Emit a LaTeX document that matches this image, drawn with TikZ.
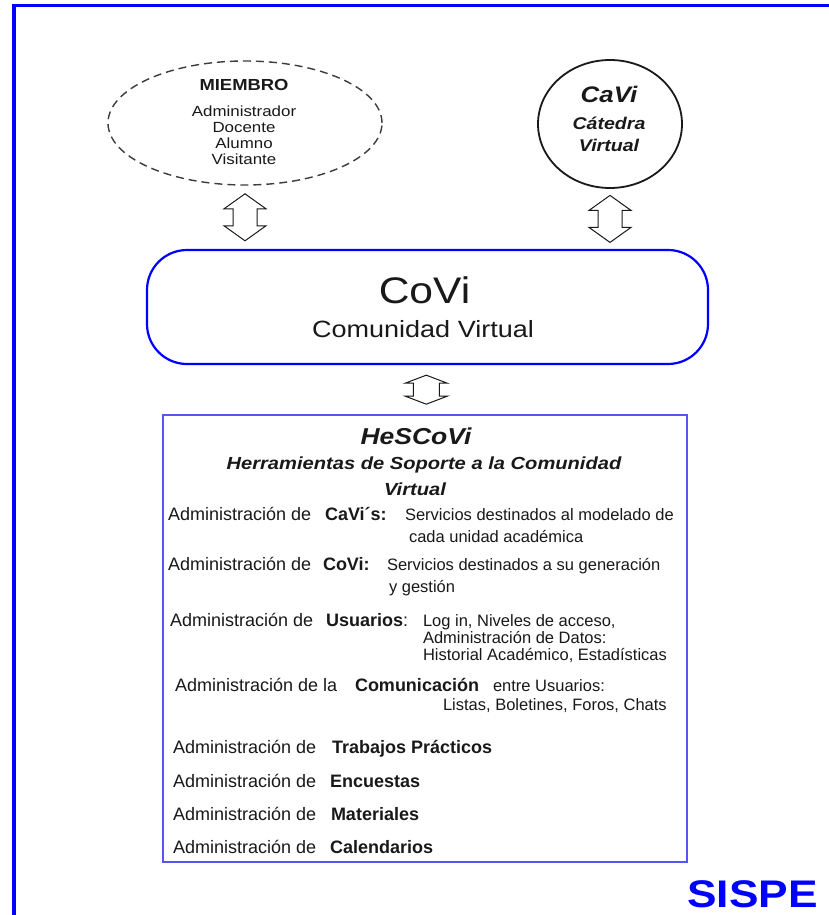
\documentclass[tikz,border=0pt]{standalone}
\usepackage{fontspec}
\setmainfont{Liberation Sans}
\newfontfamily\wf[FakeStretch=1.15]{Liberation Sans}
\usetikzlibrary{shapes.geometric,calc}
\definecolor{boxblue}{RGB}{85,85,245}
\definecolor{ink}{RGB}{25,25,25}
\definecolor{framblue}{RGB}{0,0,255}
\tikzset{
  txt/.style={inner sep=0pt, outer sep=0pt, text=ink},
  ctr/.style={txt, anchor=base},
  lft/.style={txt, anchor=base west},
  adm/.style={lft, font=\fontsize{18}{20}\selectfont},
  key/.style={lft, font=\bfseries\fontsize{18}{20}\selectfont},
  desc/.style={lft, font=\fontsize{16.5}{17}\selectfont},
  dblstyle/.style={draw=ink, line width=1pt, fill=white, line join=miter},
  pics/dbla/.style n args={4}{code={%
    \draw[dblstyle] (0,-#1) -- (#3,-#1+#2) -- (#4,-#1+#2) -- (#4,#1-#2) -- (#3,#1-#2)
      -- (0,#1) -- (-#3,#1-#2) -- (-#4,#1-#2) -- (-#4,-#1+#2) -- (-#3,-#1+#2) -- cycle;
  }},
}
\begin{document}
\begin{tikzpicture}[x=1pt,y=-1pt]
\useasboundingbox (0,0) rectangle (829,915);
\fill[white] (0,0) rectangle (829,915);
% outer frame
\draw[framblue, line width=3.6pt] (13.7,930) -- (13.7,5.5) -- (845,5.5);

% MIEMBRO
\node[ellipse, draw=ink!85, line width=1.4pt, dash pattern=on 8pt off 5pt,
      minimum width=274pt, minimum height=124pt, inner sep=0pt] (miembro) at (245,123) {};
\node[ctr, font=\wf\bfseries\fontsize{16}{18}\selectfont] (mtitle) at (244,90.7) {MIEMBRO};
\node[ctr, font=\wf\fontsize{14.7}{16}\selectfont] (m1) at (244,116.5) {Administrador};
\node[ctr, font=\wf\fontsize{14.7}{16}\selectfont] (m2) at (244,132.5) {Docente};
\node[ctr, font=\wf\fontsize{14.7}{16}\selectfont] (m3) at (244,148.5) {Alumno};
\node[ctr, font=\wf\fontsize{14.7}{16}\selectfont] (m4) at (244,164.5) {Visitante};

% CaVi
\node[ellipse, draw=ink, line width=1.8pt, minimum width=144pt, minimum height=128pt,
      inner sep=0pt] (cavi) at (610,124) {};
\node[ctr, font=\wf\bfseries\itshape\fontsize{22.5}{24}\selectfont] (c0) at (609,102.7) {CaVi};
\node[ctr, font=\wf\bfseries\itshape\fontsize{17}{19}\selectfont] (c1) at (609,130) {Cátedra};
\node[ctr, font=\wf\bfseries\itshape\fontsize{17}{19}\selectfont] (c2) at (609,151.7) {Virtual};

% CoVi
\node[draw=framblue, line width=2.2pt, rounded corners=40pt, minimum width=561pt,
      minimum height=114pt, inner sep=0pt] (covi) at (427.5,307) {};
\node[ctr, font=\wf\fontsize{37}{40}\selectfont] (covit) at (424.5,303) {CoVi};
\node[ctr, font=\wf\fontsize{23.5}{25}\selectfont] (covis) at (423,337) {Comunidad Virtual};

% HeSCoVi box
\node[draw=boxblue, line width=1.5pt, minimum width=524pt, minimum height=447pt,
      inner sep=0pt] (hes) at (425,638.5) {};
\node[ctr, font=\wf\bfseries\itshape\fontsize{23}{25}\selectfont] (h0) at (416,444) {HeSCoVi};
\node[ctr, font=\wf\bfseries\itshape\fontsize{17.5}{19}\selectfont] (h1) at (424,469) {Herramientas de Soporte a la Comunidad};
\node[ctr, font=\wf\bfseries\itshape\fontsize{17.5}{19}\selectfont] (h2) at (415,495) {Virtual};

% rows
\node[adm] (r1a) at (168,520) {Administración de};
\node[key] (r1b) at (325,520) {CaVi´s:};
\node[desc] (r1c) at (405,520) {Servicios destinados al modelado de};
\node[desc] (r1d) at (409,542) {cada unidad académica};

\node[adm] (r2a) at (168,570) {Administración de};
\node[key] (r2b) at (323,570) {CoVi:};
\node[desc] (r2c) at (387,570) {Servicios destinados a su generación};
\node[desc] (r2d) at (389,592) {y gestión};

\node[adm] (r3a) at (170,626) {Administración de};
\node[key] (r3b) at (326,626) {Usuarios};
\node[adm] (r3k) at (403,626) {:};
\node[desc] (r3c) at (423,626) {Log in, Niveles de acceso,};
\node[desc] (r3d) at (423,643) {Administración de Datos:};
\node[desc] (r3e) at (423,660) {Historial Académico, Estadísticas};

\node[adm] (r4a) at (175,691) {Administración de la};
\node[key] (r4b) at (355,691) {Comunicación};
\node[desc] (r4c) at (493,691) {entre Usuarios:};
\node[desc] (r4d) at (443,710) {Listas, Boletines, Foros, Chats};

\node[adm] (r5a) at (173,753) {Administración de};
\node[key] (r5b) at (332,753) {Trabajos Prácticos};
\node[adm] (r6a) at (173,787) {Administración de};
\node[key] (r6b) at (330,787) {Encuestas};
\node[adm] (r7a) at (173,820) {Administración de};
\node[key] (r7b) at (331,820) {Materiales};
\node[adm] (r8a) at (173,853) {Administración de};
\node[key] (r8b) at (330,853) {Calendarios};

% double arrows between shapes
\coordinate (a1) at ($(miembro.south)!0.5!(miembro.south |- covi.north)$);
\coordinate (a2) at ($(cavi.south)!0.5!(cavi.south |- covi.north)$);
\coordinate (a3) at ($(covi.south)!0.5!(hes.north)$);
\pic at (a1) {dbla={23.5}{15}{21}{12}};
\pic at (a2) {dbla={23.5}{15}{21}{12}};
\pic at (a3) {dbla={14.5}{8}{21}{13}};

% SISPE
\node[txt, anchor=base, text=framblue, font=\wf\bfseries\fontsize{38.5}{40}\selectfont] (sispe) at (752.5,907) {SISPE};
\end{tikzpicture}
\end{document}
